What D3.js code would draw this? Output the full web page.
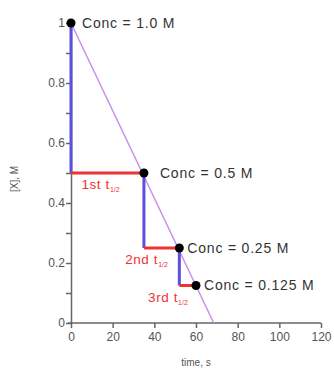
<!DOCTYPE html>
<html>
<head>
<meta charset="utf-8">
<script src="https://cdn.jsdelivr.net/npm/d3@7"></script>
<style>
  body { margin: 0; background: #fff; }
  svg, svg text { font-family: "Liberation Sans", Arial, sans-serif; }
</style>
</head>
<body>
<svg id="chart" width="334" height="374"></svg>
<script>
// half-life points (time s, conc M)
const times = [0, 35, 52, 60]
const concs = [1.0, 0.5, 0.25, 0.125]
const concLabels = ['Conc = 1.0 M', 'Conc = 0.5 M', 'Conc = 0.25 M', 'Conc = 0.125 M']
const halfLabels = ['1st', '2nd', '3rd']
// straight line that hits zero
const lineX = [0, 68.5]
const lineY = [1, 0]
const xTicks = [0, 20, 40, 60, 80, 100, 120]
const yTicks = [0, 0.2, 0.4, 0.6, 0.8, 1]
const yMinor = [0.1, 0.3, 0.5, 0.7, 0.9]

const svg = d3.select('#chart')
const margin = {top: 23, right: 13, bottom: 51, left: 71}
const width = 334, height = 374
const innerWidth = width - margin.left - margin.right
const innerHeight = height - margin.top - margin.bottom

const x = d3.scaleLinear().domain([0, 120]).range([0, innerWidth])
const y = d3.scaleLinear().domain([0, 1]).range([innerHeight, 0])

const g = svg.append('g')
    .attr('transform', `translate(${margin.left},${margin.top})`)

// x axis
const xAxis = g.append('g')
    .attr('transform', `translate(0,${innerHeight})`)
    .attr('font-family', 'Liberation Sans, Arial, sans-serif')
    .call(d3.axisBottom(x).tickValues(xTicks).tickSize(5).tickSizeOuter(0).tickFormat(d3.format('d')))
xAxis.select('.domain').attr('stroke', '#666').attr('stroke-width', 1.5).attr('d', `M-3,0H${innerWidth}`)
xAxis.selectAll('.tick line').attr('stroke', '#666').attr('stroke-width', 1.5)
xAxis.selectAll('.tick text').attr('fill', '#555').attr('font-size', 12).attr('dy', '0.85em')

// y axis
const yAxis = g.append('g')
    .attr('font-family', 'Liberation Sans, Arial, sans-serif')
    .call(d3.axisLeft(y).tickValues(yTicks).tickSize(5).tickSizeOuter(0).tickFormat(d => d === 0 || d === 1 ? d : d3.format('.1f')(d)))
yAxis.select('.domain').attr('stroke', '#666').attr('stroke-width', 1.5)
yAxis.selectAll('.tick line').attr('stroke', '#666').attr('stroke-width', 1.5)
yAxis.selectAll('.tick text').attr('fill', '#555').attr('font-size', 12).attr('x', -6)

g.append('g')
    .call(d3.axisLeft(y).tickValues(yMinor).tickSize(5).tickFormat(''))
    .call(a => a.select('.domain').remove())
    .selectAll('.tick line').attr('stroke', '#666').attr('stroke-width', 1.5)

// axis titles
g.append('text')
    .attr('text-anchor', 'middle')
    .attr('x', x(60))
    .attr('y', innerHeight + 43)
    .attr('font-size', 10)
    .attr('fill', '#555')
    .text('time, s')

g.append('text')
    .attr('text-anchor', 'middle')
    .attr('transform', `translate(-53,${y(0.48)}) rotate(-90)`)
    .attr('font-size', 10)
    .attr('fill', '#555')
    .text('[X], M')

// purple line
g.append('path')
    .datum(lineX.map((d, i) => [d, lineY[i]]))
    .attr('fill', 'none')
    .attr('stroke', '#c98ef0')
    .attr('stroke-width', 1.5)
    .attr('d', d3.line().x(d => x(d[0])).y(d => y(d[1])))

// steps: red horizontal, blue vertical
for (let i = 0; i < 3; i++) {
    g.append('line')
        .attr('x1', x(times[i])).attr('x2', x(times[i]))
        .attr('y1', y(concs[i])).attr('y2', y(concs[i + 1]))
        .attr('stroke', '#5a4fe0').attr('stroke-width', 3)
    g.append('line')
        .attr('x1', x(times[i])).attr('x2', x(times[i + 1]))
        .attr('y1', y(concs[i + 1])).attr('y2', y(concs[i + 1]))
        .attr('stroke', '#ee3333').attr('stroke-width', 3)
}

// half-life labels
const halfPos = [[5, 0.5], [26, 0.25], [37, 0.125]]
halfLabels.forEach((lab, i) => {
    const t = g.append('text')
        .attr('x', x(halfPos[i][0]))
        .attr('y', y(halfPos[i][1]) + 16)
        .attr('font-size', 13.5)
        .attr('letter-spacing', 0.6)
        .attr('fill', '#ee3333')
    t.append('tspan').text(lab + ' t')
    t.append('tspan').attr('font-size', 7).attr('dy', 3).attr('letter-spacing', 0).text('1/2')
})

// points
g.selectAll('circle')
    .data(times)
    .join('circle')
    .attr('cx', d => x(d))
    .attr('cy', (d, i) => y(concs[i]))
    .attr('r', 4.5)
    .attr('fill', '#000')

const labelDx = [6, 11, 3, 3]
g.selectAll('.conc')
    .data(concLabels)
    .join('text')
    .attr('class', 'conc')
    .attr('x', (d, i) => x(times[i]) + 5 + labelDx[i])
    .attr('y', (d, i) => y(concs[i]))
    .attr('dy', '0.35em')
    .attr('font-size', 14)
    .attr('letter-spacing', 0.8)
    .attr('fill', '#333')
    .text(d => d)
</script>
</body>
</html>
